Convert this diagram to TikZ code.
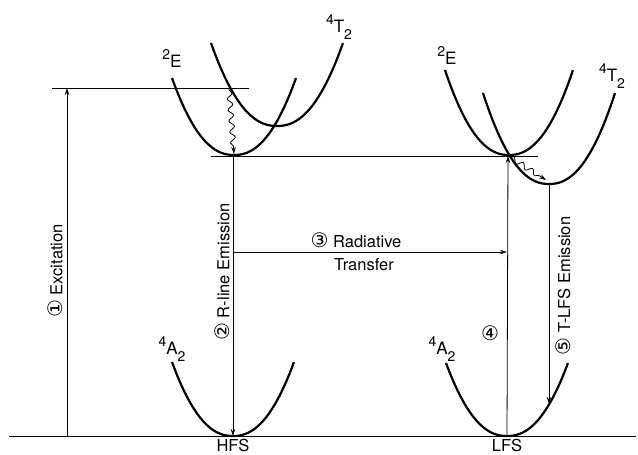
\documentclass[tikz,border=0pt]{standalone}
\usepackage{fontspec}
\setmainfont{TeX Gyre Heros}
\newfontfamily\circfont{DejaVu Sans}
\usepackage{tikz}
\usetikzlibrary{arrows.meta, decorations.pathmorphing}
\newcommand{\cnum}[1]{{\circfont\fontsize{20}{22}\selectfont #1}}
\newcommand{\term}[3]{\raisebox{0.5em}{\fontsize{14}{16}\selectfont #1}#2\raisebox{-0.4em}{\fontsize{14}{16}\selectfont #3}}

\begin{document}
\begin{tikzpicture}[x=1pt, y=-1pt,
  curve/.style={line width=2.2pt},
  lvl/.style={line width=0.8pt},
  arr/.style={-{Stealth[length=7pt, width=4.5pt]}, line width=0.8pt},
  wavy/.style={arr, decorate,
               decoration={snake, amplitude=2.6pt, segment length=11pt,
                           pre length=2pt, post length=5pt}},
  lbl/.style={font=\fontsize{16.5}{19}\selectfont, inner sep=0pt},
  term/.style={font=\fontsize{17}{20}\selectfont, inner sep=0pt}]
  \useasboundingbox (0,0) rectangle (638,455);

  % levels and turning points
  \coordinate (gndL)   at (9,436);
  \coordinate (gndR)   at (636,436);
  \coordinate (topL)   at (52,88);
  \coordinate (topR)   at (249,88);
  \coordinate (midL)   at (211,156);
  \coordinate (midR)   at (538,156);
  \coordinate (exbot)  at (67,436);
  \coordinate (extop)  at (67,88);
  \coordinate (hfsmin) at (233,436);
  \coordinate (lfsmin) at (507,436);
  \coordinate (emin)   at (233,156);
  \coordinate (xing)   at (508,156);
  \coordinate (tmin)   at (549,184);
  \coordinate (tend)   at (549,404);
  \coordinate (wtop)   at (229,88);
  \coordinate (wbot)   at (234,154);
  \coordinate (wend)   at (546,180);
  \coordinate (rtL)    at (233,252);
  \coordinate (rtR)    at (507,252);

  % potential curves: centre x / bottom y / half width / height
  \foreach \cx/\cy/\hw/\ht in {233/436/61/74, 507/436/61/73,
                               234/155/62/77, 277/126/66/83,
                               509/155/64/85, 549/184/66/91}
    \draw[curve] plot[domain=-1:1, samples=41, smooth]
      ({\cx+\hw*\x}, {\cy-\ht*\x*\x*sqrt(sqrt(abs(\x)))});

  \draw[lvl] (gndL) -- (gndR);
  \draw[lvl] (topL) -- (topR);
  \draw[lvl] (midL) -- (midR);

  \draw[arr] (exbot)  -- (extop);
  \draw[arr] (emin)   -- (hfsmin);
  \draw[arr] (rtL)    -- (rtR);
  \draw[arr] (lfsmin) -- (xing);
  \draw[arr] (tmin)   -- (tend);
  \draw[wavy] (wtop) -- (wbot);
  \draw[wavy] (xing) -- (wend);

  \node[lbl, rotate=90] (excit)  at (55,271)  {\cnum{①} Excitation};
  \node[lbl, rotate=90] (rline)  at (222,272) {\cnum{②} R-line Emission};
  \node[lbl]            (radiat) at (356,240) {\cnum{③} Radiative};
  \node[lbl]            (transf) at (364,265) {Transfer};
  \node[lbl]            (four)   at (490,333) {\cnum{④}};
  \node[lbl, rotate=90] (tlfs)   at (563,286) {\cnum{⑤} T-LFS Emission};
  \node[lbl]            (hfs)    at (233,445) {HFS};
  \node[lbl]            (lfs)    at (507,445) {LFS};

  \node[term] (eL)  at (172,62)  {\term{2}{E}{}};
  \node[term] (tL)  at (339,27)  {\term{4}{T}{2}};
  \node[term] (eR)  at (447,59)  {\term{2}{E}{}};
  \node[term] (tR)  at (612,76)  {\term{4}{T}{2}};
  \node[term] (aL)  at (172,349) {\term{4}{A}{2}};
  \node[term] (aR)  at (442,349) {\term{4}{A}{2}};
\end{tikzpicture}
\end{document}
